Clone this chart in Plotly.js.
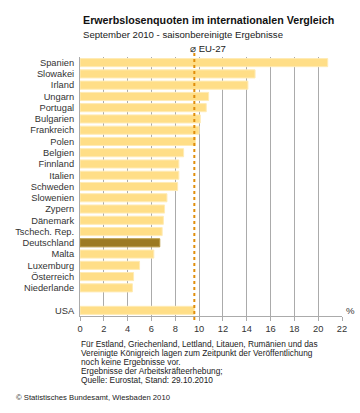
<!DOCTYPE html>
<html><head><meta charset="utf-8">
<script src="https://cdn.plot.ly/plotly-3.0.1.min.js"></script>
<style>html,body{margin:0;padding:0;background:#fff}#chart{width:360px;height:413px}</style>
</head><body><div id="chart"></div>
<script>
const countries = ["Spanien","Slowakei","Irland","Ungarn","Portugal","Bulgarien","Frankreich","Polen","Belgien","Finnland","Italien","Schweden","Slowenien","Zypern","Dänemark","Tschech. Rep.","Deutschland","Malta","Luxemburg","Österreich","Niederlande"," ","USA"];
const rates = [20.8,14.7,14.1,10.8,10.6,10.1,10.0,9.7,8.7,8.3,8.3,8.2,7.3,7.1,7.0,6.9,6.7,6.2,5.0,4.5,4.4,null,9.6];
const eu27 = 9.6;
const highlight = "Deutschland";
const xTicks = [0,2,4,6,8,10,12,14,16,18,20,22];
const footnoteLines = [
  "Für Estland, Griechenland, Lettland, Litauen, Rumänien und das",
  "Vereinigte Königreich lagen zum Zeitpunkt der Veröffentlichung",
  "noch keine Ergebnisse vor.",
  "Ergebnisse der Arbeitskräfteerhebung;",
  "Quelle: Eurostat, Stand: 29.10.2010"
];

const colors = countries.map(c => c === highlight ? "#9C7A22" : "#FFDE87");
const lineColors = countries.map(c => c === highlight ? "#B8973F" : "#FFEBB5");

const font = "Liberation Sans, Arial, sans-serif";
const W = 360, H = 413, M = {l: 80, r: 18, t: 57, b: 97};
function px(x){return (x-M.l)/(W-M.l-M.r);}
function py(y){return (H-M.b-y)/(H-M.t-M.b);}

const trace = {
  type: "bar", orientation: "h", x: rates, y: countries,
  marker: {color: colors, line: {color: lineColors, width: 1}},
  width: 0.72, hoverinfo: "skip"
};
const annotations = [
  {text: "<b>Erwerbslosenquoten im internationalen Vergleich</b>", xref: "paper", yref: "paper",
   x: px(81), y: py(20), xanchor: "left", yanchor: "middle", showarrow: false,
   font: {size: 10.7, color: "#111", family: font}},
  {text: "September 2010 - saisonbereinigte Ergebnisse", xref: "paper", yref: "paper",
   x: px(81), y: py(35), xanchor: "left", yanchor: "middle", showarrow: false,
   font: {size: 9.6, color: "#222", family: font}},
  {text: "⌀ EU-27", xref: "x", yref: "paper", x: eu27, y: py(48), xanchor: "left", yanchor: "middle",
   xshift: -6, showarrow: false, font: {size: 9.6, color: "#222", family: font}},
  {text: "%", xref: "paper", yref: "paper", x: 1, y: 0, xanchor: "left", yanchor: "bottom",
   xshift: 2, yshift: -2, showarrow: false, font: {size: 9.6, color: "#333", family: font}},
  {text: "© Statistisches Bundesamt, Wiesbaden 2010", xref: "paper", yref: "paper",
   x: px(14), y: py(397), xanchor: "left", yanchor: "middle", showarrow: false,
   font: {size: 7.7, color: "#222", family: font}}
];
footnoteLines.forEach((t, i) => annotations.push({
  text: t, xref: "paper", yref: "paper", x: px(79), y: py(344 + i*9), xanchor: "left", yanchor: "middle",
  showarrow: false, font: {size: 8.3, color: "#222", family: font}
}));

const layout = {
  width: W, height: H, margin: M,
  paper_bgcolor: "#fff", plot_bgcolor: "#fff", showlegend: false,
  font: {family: font, size: 9, color: "#333"},
  xaxis: {range: [0, 22], tickmode: "array", tickvals: xTicks, ticktext: xTicks.map(String),
    showgrid: true, gridcolor: "#ababab", gridwidth: 1, zeroline: false,
    showline: true, linecolor: "#ababab", linewidth: 1,
    ticks: "outside", ticklen: 4, tickcolor: "#ababab",
    tickfont: {size: 9.3, color: "#333", family: font}, fixedrange: true},
  yaxis: {type: "category", categoryorder: "array", categoryarray: countries,
    tickmode: "array", tickvals: countries, ticktext: countries,
    range: [countries.length - 0.5, -0.5], showgrid: false, zeroline: false,
    showline: true, linecolor: "#ababab", linewidth: 1, ticks: "",
    ticklabelstandoff: 3,
    tickfont: {size: 9.3, color: "#333", family: font}, fixedrange: true},
  shapes: [{type: "line", xref: "x", yref: "paper", x0: eu27, x1: eu27, y0: -0.015, y1: 1.02,
    line: {color: "#E08E0B", width: 2, dash: "dot"}}],
  annotations: annotations
};

Plotly.newPlot("chart", [trace], layout, {displayModeBar: false, staticPlot: true});
</script></body></html>
